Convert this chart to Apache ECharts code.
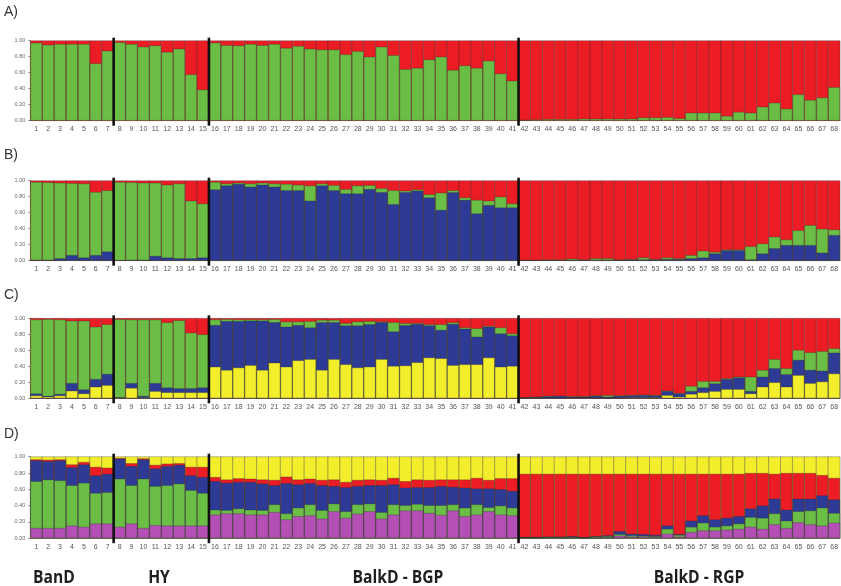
<!DOCTYPE html>
<html><head><meta charset="utf-8">
<script src="https://cdn.jsdelivr.net/npm/echarts@6/dist/echarts.min.js"></script>
<style>html,body{margin:0;padding:0;background:#fff}#chart{width:841px;height:586px}</style>
</head><body><div id="chart"></div>
<script>
// Individuals 1..68 and the four sampled groups they belong to
const individuals = Array.from({ length: 68 }, (_, i) => String(i + 1));
const groupNames = ['BanD', 'HY', 'BalkD - BGP', 'BalkD - RGP'];
const groupSizes = [7, 8, 26, 27];
const panelLabels = ['A)', 'B)', 'C)', 'D)'];
const yTicks = [0, 0.2, 0.4, 0.6, 0.8, 1.0];

// Upper edge of each cluster's segment in every individual's bar
// (membership accumulated from the bottom; the top cluster fills the rest up to 1.00)

// K = 2: green | red
const aGreen = [0.975,0.95,0.96,0.96,0.96,0.717,0.875,
  0.98,0.96,0.925,0.94,0.86,0.90,0.58,0.39,
  0.975,0.945,0.94,0.96,0.945,0.96,0.91,0.935,0.90,0.89,0.89,0.83,0.87,0.80,0.925,0.82,0.645,0.66,0.765,0.80,0.635,0.69,0.66,0.75,0.59,0.50,
  0.01,0.015,0.02,0.02,0.02,0.025,0.025,0.025,0.025,0.025,0.04,0.04,0.045,0.03,0.10,0.10,0.10,0.06,0.11,0.10,0.175,0.225,0.15,0.33,0.26,0.29,0.42];

// K = 3: blue | green | red
const bBlue = [0.01,0.01,0.03,0.07,0.04,0.07,0.115,
  0.005,0.01,0.01,0.06,0.04,0.03,0.03,0.04,
  0.89,0.94,0.96,0.925,0.95,0.925,0.88,0.88,0.75,0.94,0.88,0.84,0.84,0.895,0.855,0.705,0.855,0.875,0.79,0.635,0.855,0.76,0.59,0.695,0.665,0.665,
  0.005,0.005,0.005,0.005,0.01,0.01,0.01,0.01,0.01,0.015,0.015,0.015,0.02,0.02,0.03,0.04,0.09,0.13,0.13,0.015,0.09,0.155,0.195,0.195,0.195,0.10,0.32];
const bGreen = [0.985,0.98,0.975,0.97,0.965,0.86,0.88,
  0.985,0.98,0.975,0.975,0.95,0.965,0.75,0.715,
  0.985,0.965,0.975,0.965,0.975,0.965,0.96,0.95,0.94,0.965,0.945,0.895,0.94,0.945,0.905,0.88,0.875,0.89,0.83,0.85,0.88,0.79,0.76,0.75,0.80,0.715,
  0.01,0.01,0.015,0.015,0.025,0.015,0.03,0.03,0.015,0.02,0.04,0.02,0.04,0.03,0.07,0.125,0.11,0.14,0.14,0.18,0.215,0.30,0.265,0.38,0.445,0.40,0.39];

// K = 4: yellow | blue | green | red
const cYellow = [0.035,0.02,0.035,0.095,0.06,0.145,0.165,
  0.01,0.13,0.01,0.09,0.075,0.075,0.075,0.075,
  0.395,0.355,0.385,0.415,0.355,0.445,0.395,0.475,0.49,0.355,0.49,0.425,0.385,0.395,0.49,0.405,0.41,0.45,0.51,0.50,0.415,0.425,0.425,0.51,0.395,0.405,
  0.005,0.005,0.005,0.005,0.005,0.005,0.005,0.005,0.005,0.01,0.01,0.01,0.04,0.02,0.055,0.075,0.09,0.115,0.115,0.06,0.145,0.20,0.145,0.29,0.19,0.21,0.31];
const cBlue = [0.06,0.03,0.055,0.19,0.11,0.24,0.305,
  0.015,0.19,0.03,0.19,0.135,0.125,0.125,0.135,
  0.915,0.965,0.965,0.97,0.97,0.95,0.895,0.915,0.885,0.95,0.95,0.91,0.91,0.925,0.95,0.835,0.915,0.93,0.91,0.855,0.93,0.87,0.77,0.895,0.81,0.785,
  0.01,0.015,0.025,0.03,0.02,0.02,0.03,0.02,0.03,0.035,0.04,0.035,0.09,0.06,0.09,0.135,0.185,0.24,0.26,0.09,0.27,0.375,0.30,0.48,0.355,0.345,0.57];
const cGreen = [0.985,0.99,0.985,0.97,0.97,0.895,0.925,
  0.99,0.985,0.985,0.985,0.95,0.975,0.82,0.80,
  0.985,0.99,0.985,0.985,0.985,0.99,0.96,0.96,0.965,0.98,0.98,0.94,0.96,0.965,0.96,0.95,0.94,0.94,0.925,0.925,0.95,0.885,0.875,0.905,0.885,0.81,
  0.01,0.02,0.03,0.03,0.025,0.025,0.035,0.04,0.035,0.04,0.045,0.04,0.095,0.065,0.155,0.215,0.215,0.25,0.27,0.27,0.355,0.49,0.375,0.605,0.575,0.59,0.625];

// K = 5: magenta | green | blue | red | yellow
const dMagenta = [0.125,0.125,0.125,0.155,0.14,0.18,0.18,
  0.14,0.18,0.125,0.16,0.155,0.155,0.155,0.155,
  0.29,0.305,0.305,0.29,0.29,0.32,0.23,0.27,0.28,0.24,0.33,0.25,0.30,0.33,0.24,0.29,0.34,0.34,0.31,0.285,0.34,0.27,0.29,0.33,0.29,0.28,
  0.005,0.005,0.005,0.005,0.005,0.005,0.005,0.01,0.03,0.02,0.02,0.015,0.055,0.02,0.075,0.095,0.095,0.105,0.115,0.14,0.115,0.17,0.125,0.195,0.17,0.155,0.19];
const dGreen = [0.70,0.72,0.71,0.65,0.68,0.555,0.565,
  0.73,0.65,0.73,0.64,0.65,0.67,0.59,0.555,
  0.35,0.345,0.365,0.35,0.345,0.415,0.305,0.375,0.415,0.345,0.425,0.33,0.415,0.425,0.32,0.415,0.405,0.42,0.405,0.405,0.415,0.375,0.415,0.38,0.40,0.375,
  0.01,0.01,0.015,0.015,0.015,0.01,0.02,0.025,0.05,0.035,0.03,0.025,0.115,0.04,0.14,0.19,0.14,0.155,0.18,0.26,0.25,0.305,0.215,0.33,0.34,0.375,0.31];
const dBlue = [0.955,0.945,0.955,0.87,0.905,0.77,0.79,
  0.975,0.885,0.965,0.855,0.885,0.90,0.77,0.75,
  0.70,0.68,0.69,0.69,0.67,0.65,0.675,0.66,0.675,0.65,0.64,0.625,0.64,0.65,0.65,0.66,0.62,0.625,0.625,0.64,0.63,0.62,0.61,0.61,0.60,0.58,
  0.015,0.015,0.02,0.02,0.025,0.015,0.025,0.035,0.085,0.055,0.05,0.04,0.155,0.05,0.215,0.28,0.23,0.25,0.27,0.365,0.40,0.485,0.35,0.485,0.485,0.525,0.475];
const dRed = [0.967,0.963,0.967,0.905,0.935,0.875,0.865,
  0.984,0.92,0.98,0.90,0.915,0.92,0.875,0.875,
  0.75,0.72,0.735,0.73,0.72,0.715,0.755,0.72,0.73,0.715,0.72,0.69,0.715,0.72,0.715,0.74,0.70,0.72,0.715,0.72,0.72,0.72,0.74,0.715,0.735,0.735,
  0.79,0.79,0.79,0.79,0.79,0.79,0.79,0.79,0.79,0.79,0.79,0.79,0.79,0.79,0.79,0.79,0.79,0.79,0.79,0.80,0.80,0.79,0.80,0.80,0.80,0.775,0.74];

const COL = {
  green: '#6abd45',
  red: '#ec1c24',
  blue: '#2d3b97',
  yellow: '#f3ee2c',
  magenta: '#b44fb5'
};
const EDGE = 'rgba(45,45,45,0.5)';

// Panels: stacked segments drawn back-to-front; the first layer's background is the top cluster
const panels = [
  { top: 40.7, height: 80, topColor: COL.red, layers: [[aGreen, COL.green]] },
  { top: 180.7, height: 80, topColor: COL.red, layers: [[bGreen, COL.green], [bBlue, COL.blue]] },
  { top: 318.3, height: 80, topColor: COL.red, layers: [[cGreen, COL.green], [cBlue, COL.blue], [cYellow, COL.yellow]] },
  { top: 456.7, height: 81.5, topColor: COL.yellow, layers: [[dRed, COL.red], [dBlue, COL.blue], [dGreen, COL.green], [dMagenta, COL.magenta]] }
];

// group boundaries (after individual 7, 15 and 41)
const boundaries = [];
groupSizes.slice(0, -1).reduce((acc, n) => { boundaries.push(acc + n); return acc + n; }, 0);

const grid = [], xAxis = [], yAxis = [], series = [];
panels.forEach((p, g) => {
  grid.push({ left: 30.3, right: -2.3, top: p.top, height: p.height });
  xAxis.push({
    gridIndex: g, type: 'category', data: individuals,
    axisLine: { lineStyle: { color: '#8a8a8a', width: 1 } },
    axisTick: { alignWithLabel: true, length: 2, lineStyle: { color: '#8a8a8a' } },
    axisLabel: { interval: 0, fontSize: 7, color: '#555', margin: 5, fontFamily: 'Liberation Sans' }
  });
  yAxis.push({
    gridIndex: g, type: 'value', min: 0, max: 1, interval: 0.2,
    axisLine: { show: true, lineStyle: { color: '#8a8a8a' } },
    axisTick: { show: true, length: 2, lineStyle: { color: '#8a8a8a' } },
    splitLine: { show: false },
    axisLabel: { fontSize: 5.5, color: '#666', margin: 5, fontFamily: 'Liberation Sans',
      formatter: v => yTicks.includes(Math.round(v * 10) / 10) ? v.toFixed(2) : '' }
  });
  p.layers.forEach(([data, color], i) => {
    series.push({
      type: 'bar', xAxisIndex: g, yAxisIndex: g, data,
      barGap: '-100%', barCategoryGap: '0%',
      itemStyle: { color, borderColor: EDGE, borderWidth: 0.6 },
      showBackground: i === 0,
      backgroundStyle: { color: p.topColor, borderColor: EDGE, borderWidth: 0.6, opacity: 1 },
      silent: true
    });
  });
  series.push({
    type: 'custom', xAxisIndex: g, yAxisIndex: g, z: 10, silent: true,
    data: boundaries.map(b => [b, 1]),
    renderItem(params, api) {
      const idx = api.value(0);
      const top = api.coord([idx, 1]);
      const bot = api.coord([idx, 0]);
      const bw = api.size([1, 0])[0];
      const x = top[0] - bw / 2;
      return { type: 'line', shape: { x1: x, y1: top[1] - 3, x2: x, y2: bot[1] + 5 },
        style: { stroke: '#111', lineWidth: 2.6 } };
    }
  });
});

const letterTops = [5, 148, 288, 427];
const groupCenters = [54, 159, 398, 699];
const graphic = [];
panelLabels.forEach((t, i) => graphic.push({
  type: 'text', left: 4, top: letterTops[i],
  style: { text: t, font: '14px "Liberation Sans"', fill: '#333' }
}));
groupNames.forEach((t, i) => graphic.push({
  type: 'text', x: groupCenters[i], y: 578, scaleX: 0.92,
  style: { text: t, font: 'bold 17px "Open Sans"', fill: '#1e1e1e', align: 'center', verticalAlign: 'middle' }
}));

const chart = echarts.init(document.getElementById('chart'), null, { renderer: 'canvas' });
chart.setOption({ animation: false, grid, xAxis, yAxis, series, graphic });
</script></body></html>
